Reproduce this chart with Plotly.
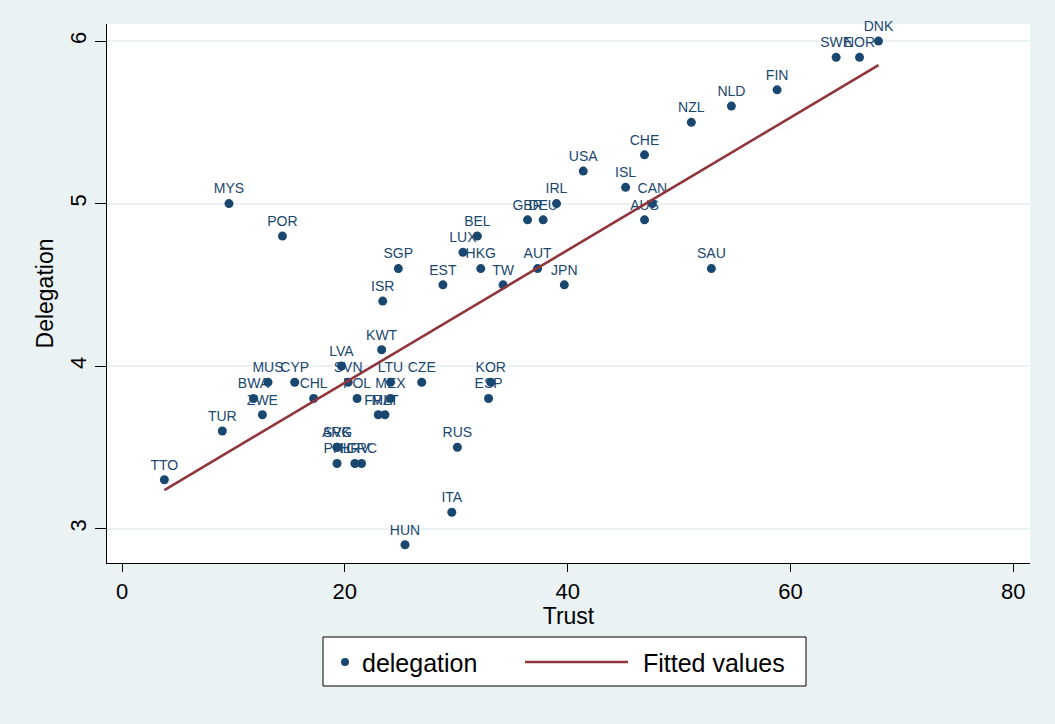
import numpy as np
import plotly.graph_objects as go

# Country codes, trust (x) and delegation (y)
countries = ["DNK", "SWE", "NOR", "FIN", "NLD", "NZL", "CHE", "USA", "ISL", "CAN",
             "AUS", "IRL", "GBR", "DEU", "BEL", "LUX", "HKG", "AUT", "EST", "TW",
             "JPN", "SGP", "ISR", "KWT", "MYS", "POR", "SAU", "LVA", "SVN", "LTU",
             "CZE", "MUS", "CYP", "BWA", "CHL", "POL", "MEX", "ZWE", "FRA", "MLT",
             "TUR", "TTO", "ARG", "SVK", "PHL", "HRV", "GRC", "RUS", "KOR", "ESP",
             "ITA", "HUN"]
trust = [67.9, 64.1, 66.2, 58.8, 54.7, 51.1, 46.9, 41.4, 45.2, 47.6,
         46.9, 39.0, 36.4, 37.8, 31.9, 30.6, 32.2, 37.3, 28.8, 34.2,
         39.7, 24.8, 23.4, 23.3, 9.6, 14.4, 52.9, 19.7, 20.3, 24.1,
         26.9, 13.1, 15.5, 11.8, 17.2, 21.1, 24.1, 12.6, 23.0, 23.6,
         9.0, 3.8, 19.3, 19.3, 19.3, 20.9, 21.5, 30.1, 33.1, 32.9,
         29.6, 25.4]
delegation = [6.0, 5.9, 5.9, 5.7, 5.6, 5.5, 5.3, 5.2, 5.1, 5.0,
              4.9, 5.0, 4.9, 4.9, 4.8, 4.7, 4.6, 4.6, 4.5, 4.5,
              4.5, 4.6, 4.4, 4.1, 5.0, 4.8, 4.6, 4.0, 3.9, 3.9,
              3.9, 3.9, 3.9, 3.8, 3.8, 3.8, 3.8, 3.7, 3.7, 3.7,
              3.6, 3.3, 3.5, 3.5, 3.4, 3.4, 3.4, 3.5, 3.9, 3.8,
              3.1, 2.9]

x_ticks = [0, 20, 40, 60, 80]
y_ticks = [3, 4, 5, 6]

BG = "#EAF2F3"
NAVY = "#1A476F"
MAROON = "#90353B"
FONT = "Liberation Sans, Arial, sans-serif"

# Linear fit of delegation on trust
x_arr = np.array(trust)
y_arr = np.array(delegation)
slope, intercept = np.polyfit(x_arr, y_arr, 1)
fit_x = np.array([x_arr.min(), x_arr.max()])
fit_y = intercept + slope * fit_x

fig = go.Figure()
fig.add_trace(go.Scatter(
    x=trust, y=delegation, mode="markers+text", text=countries,
    textposition="top center",
    textfont=dict(family=FONT, size=14, color=NAVY),
    marker=dict(color=NAVY, size=9),
    name="delegation", showlegend=False, cliponaxis=False,
))
fig.add_trace(go.Scatter(
    x=fit_x, y=fit_y, mode="lines",
    line=dict(color=MAROON, width=2.6),
    name="Fitted values", showlegend=False,
))

fig.update_layout(
    width=1055, height=724,
    paper_bgcolor=BG, plot_bgcolor="white",
    margin=dict(l=107, r=25, t=24, b=161),
    font=dict(family=FONT, color="black"),
    xaxis=dict(
        range=[-1.35, 81.5], tickvals=x_ticks, showgrid=False, zeroline=False,
        showline=True, linecolor="black", linewidth=1.2,
        ticks="outside", ticklen=8, tickcolor="black",
        tickfont=dict(size=22), title=dict(text="Trust", font=dict(size=23), standoff=2),
    ),
    yaxis=dict(
        range=[2.788, 6.105], tickvals=y_ticks, showgrid=True, gridcolor=BG, gridwidth=1.5,
        zeroline=False, showline=True, linecolor="black", linewidth=1.2,
        ticks="outside", ticklen=11, tickcolor="black", tickangle=-90,
        tickfont=dict(size=22), title=dict(text="Delegation", font=dict(size=23), standoff=6),
    ),
)

# Legend drawn in paper coordinates below the plot
def px_x(p):
    return (p - 107) / 923.0

def px_y(p):
    return (563 - p) / 539.0

fig.add_shape(type="rect", xref="paper", yref="paper",
              x0=px_x(323), x1=px_x(806), y0=px_y(686), y1=px_y(637),
              fillcolor="white", line=dict(color="black", width=1))
fig.add_shape(type="circle", xref="paper", yref="paper",
              x0=px_x(341), x1=px_x(349), y0=px_y(666), y1=px_y(658),
              fillcolor=NAVY, line=dict(color=NAVY, width=0))
fig.add_shape(type="line", xref="paper", yref="paper",
              x0=px_x(525), x1=px_x(628), y0=px_y(662), y1=px_y(662),
              line=dict(color=MAROON, width=2.6))
fig.add_annotation(xref="paper", yref="paper", x=px_x(360), y=px_y(663),
                   text="delegation", showarrow=False, xanchor="left", yanchor="middle",
                   font=dict(size=25, color="black"))
fig.add_annotation(xref="paper", yref="paper", x=px_x(641), y=px_y(663),
                   text="Fitted values", showarrow=False, xanchor="left", yanchor="middle",
                   font=dict(size=25, color="black"))

fig.write_html("out.html")
